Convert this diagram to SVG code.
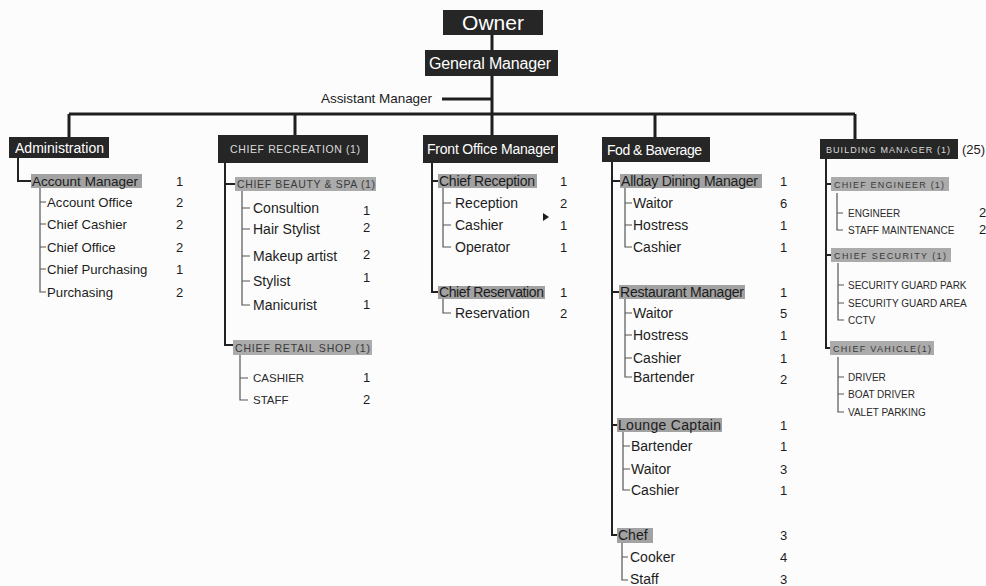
<svg xmlns="http://www.w3.org/2000/svg" width="986" height="586" viewBox="0 0 986 586">
<style>
text{font-family:"Liberation Sans",Arial,sans-serif;fill:#1c1c1c}
.dk{fill:#262626}
.hl{fill:#a2a2a2}
.cb{fill:#ababab}
text.w{fill:#ffffff}
text.wc{fill:#dcdcdc;font-size:10.5px}
text.wc9{fill:#dcdcdc;font-size:9px}
.it{font-size:14px}
.ia{font-size:13.2px}
.ct{font-size:13px}
text.cap{font-size:10.5px;fill:#3a3a3a}
text.cap9{font-size:9px;fill:#3a3a3a}
text.sm{font-size:10px;fill:#2a2a2a}
text.rs{font-size:11.5px;fill:#2a2a2a}
.main{stroke:#1e1e1e;stroke-width:3;fill:none}
.col{stroke:#222;stroke-width:2;fill:none}
.sub{stroke:#555;stroke-width:1.2;fill:none}
</style>
<rect width="986" height="586" fill="#fcfcfc"/>
<g id="connectors">
  <path class="main" d="M492 35V135M442 99H492M69 114H855M69 114V137M295 114V135M655 114V137M855 114V139"/>
  <path class="col" d="M18 158V181H31M225 163V345H233M225 184H235M432 163V292H438M432 181H438M612 162V535H617M612 181H620M612 292H619M612 425H617M826 159V348H830M826 184H831M826 255H831"/>
  <path class="sub" d="M40 188V292H46M40 202H46M40 224H46M40 247H46M40 269H46"/>
  <path class="sub" d="M242 191V305H250M242 208H250M242 229H250M242 256H250M242 281H250M240 355V400H248M240 378H248"/>
  <path class="sub" d="M443 188V247H451M443 203H451M443 225H451M443 299V313H451"/>
  <path class="sub" d="M625 188V247H632M625 203H632M625 225H632M625 299V377H632M625 313H632M625 335H632M625 358H632M623 432V490H630M623 446H630M623 469H630M622 543V580H628M622 557H628"/>
  <path class="sub" d="M837 193V230H843M837 213H843M838 263V320H844M838 285H844M838 303H844M838 357V412H844M838 377H844M838 394H844"/>
</g>
<g id="owner"><rect class="dk" x="443" y="10" width="100" height="25"/><text class="w" x="493" y="30" font-size="21" text-anchor="middle">Owner</text></g>
<g id="general-manager"><rect class="dk" x="425" y="50" width="133" height="26"/><text class="w" x="429" y="69" font-size="16" textLength="122">General Manager</text></g>
<g id="assistant-manager"><text x="321" y="103" font-size="13.5" textLength="111">Assistant Manager</text></g>

<g id="administration"><rect class="dk" x="9" y="137" width="100" height="21"/><text class="w" x="15" y="153" font-size="14" textLength="89">Administration</text></g>
<g id="account-manager"><rect class="hl" x="31" y="174" width="111" height="14"/><text x="32" y="186" font-size="13.5" textLength="106">Account Manager</text><text class="ct" x="176" y="186">1</text></g>
<g id="admin-staff">
  <text class="ia" x="47" y="207">Account Office</text><text class="ct" x="176" y="207">2</text>
  <text class="ia" x="47" y="229">Chief Cashier</text><text class="ct" x="176" y="229">2</text>
  <text class="ia" x="47" y="252">Chief Office</text><text class="ct" x="176" y="252">2</text>
  <text class="ia" x="47" y="274">Chief Purchasing</text><text class="ct" x="176" y="274">1</text>
  <text class="ia" x="47" y="297">Purchasing</text><text class="ct" x="176" y="297">2</text>
</g>

<g id="chief-recreation"><rect class="dk" x="218" y="135" width="150" height="28"/><text class="wc" x="230" y="153" textLength="130">CHIEF RECREATION (1)</text></g>
<g id="chief-beauty-spa"><rect class="cb" x="235" y="177" width="141" height="14"/><text class="cap" x="237" y="188" textLength="138">CHIEF BEAUTY &amp; SPA (1)</text></g>
<g id="beauty-staff">
  <text class="it" x="253" y="213">Consultion</text><text class="ct" x="363" y="215">1</text>
  <text class="it" x="253" y="234">Hair Stylist</text><text class="ct" x="363" y="232">2</text>
  <text class="it" x="253" y="261">Makeup artist</text><text class="ct" x="363" y="259">2</text>
  <text class="it" x="253" y="286">Stylist</text><text class="ct" x="363" y="282">1</text>
  <text class="it" x="253" y="310">Manicurist</text><text class="ct" x="363" y="309">1</text>
</g>
<g id="chief-retail-shop"><rect class="cb" x="233" y="340" width="139" height="15"/><text class="cap" x="235" y="352" textLength="135">CHIEF RETAIL SHOP (1)</text></g>
<g id="retail-staff">
  <text class="rs" x="253" y="382">CASHIER</text><text class="ct" x="363" y="382">1</text>
  <text class="rs" x="253" y="404">STAFF</text><text class="ct" x="363" y="404">2</text>
</g>

<g id="front-office-manager"><rect class="dk" x="423" y="135" width="135" height="28"/><text class="w" x="427" y="154" font-size="14" textLength="128">Front Office Manager</text></g>
<g id="chief-reception"><rect class="hl" x="438" y="174" width="99" height="14"/><text x="439" y="186" font-size="14" textLength="96">Chief Reception</text><text class="ct" x="560" y="186">1</text></g>
<g id="reception-staff">
  <text class="it" x="455" y="208">Reception</text><text class="ct" x="560" y="208">2</text>
  <text class="it" x="455" y="230">Cashier</text><text class="ct" x="560" y="230">1</text>
  <text class="it" x="455" y="252">Operator</text><text class="ct" x="560" y="252">1</text>
  <polygon points="543,213 549,217 543,221" fill="#1c1c1c"/>
</g>
<g id="chief-reservation"><rect class="hl" x="438" y="286" width="107" height="13"/><text x="439" y="297" font-size="14" textLength="105">Chief Reservation</text><text class="ct" x="560" y="297">1</text></g>
<g id="reservation-staff"><text class="it" x="455" y="318">Reservation</text><text class="ct" x="560" y="318">2</text></g>

<g id="food-beverage"><rect class="dk" x="602" y="137" width="108" height="25"/><text class="w" x="607" y="155" font-size="14" textLength="95">Fod &amp; Baverage</text></g>
<g id="allday-dining-manager"><rect class="hl" x="620" y="174" width="142" height="14"/><text x="621" y="186" font-size="14" textLength="137">Allday Dining Manager</text><text class="ct" x="780" y="186">1</text></g>
<g id="allday-staff">
  <text class="it" x="633" y="208">Waitor</text><text class="ct" x="780" y="208">6</text>
  <text class="it" x="633" y="230">Hostress</text><text class="ct" x="780" y="230">1</text>
  <text class="it" x="633" y="252">Cashier</text><text class="ct" x="780" y="252">1</text>
</g>
<g id="restaurant-manager"><rect class="hl" x="619" y="285" width="126" height="14"/><text x="620" y="297" font-size="14" textLength="124">Restaurant Manager</text><text class="ct" x="780" y="297">1</text></g>
<g id="restaurant-staff">
  <text class="it" x="633" y="318">Waitor</text><text class="ct" x="780" y="318">5</text>
  <text class="it" x="633" y="340">Hostress</text><text class="ct" x="780" y="340">1</text>
  <text class="it" x="633" y="363">Cashier</text><text class="ct" x="780" y="363">1</text>
  <text class="it" x="633" y="382">Bartender</text><text class="ct" x="780" y="384">2</text>
</g>
<g id="lounge-captain"><rect class="hl" x="617" y="418" width="105" height="14"/><text x="618" y="430" font-size="14" textLength="103">Lounge Captain</text><text class="ct" x="780" y="430">1</text></g>
<g id="lounge-staff">
  <text class="it" x="631" y="451">Bartender</text><text class="ct" x="780" y="451">1</text>
  <text class="it" x="631" y="474">Waitor</text><text class="ct" x="780" y="474">3</text>
  <text class="it" x="631" y="495">Cashier</text><text class="ct" x="780" y="495">1</text>
</g>
<g id="chef"><rect class="hl" x="617" y="528" width="36" height="15"/><text x="618" y="540" font-size="14">Chef</text><text class="ct" x="780" y="540">3</text></g>
<g id="chef-staff">
  <text class="it" x="630" y="562">Cooker</text><text class="ct" x="780" y="562">4</text>
  <text class="it" x="630" y="584">Staff</text><text class="ct" x="780" y="584">3</text>
</g>

<g id="building-manager"><rect class="dk" x="820" y="139" width="138" height="20"/><text class="wc9" x="826" y="153" textLength="124">BUILDING MANAGER (1)</text><text x="962" y="154" font-size="13">(25)</text></g>
<g id="chief-engineer"><rect class="cb" x="831" y="177" width="118" height="14"/><text class="cap9" x="834" y="188" textLength="110">CHIEF ENGINEER (1)</text></g>
<g id="engineer-staff">
  <text class="sm" x="848" y="217">ENGINEER</text><text class="ct" x="979" y="217">2</text>
  <text class="sm" x="848" y="234">STAFF MAINTENANCE</text><text class="ct" x="979" y="234">2</text>
</g>
<g id="chief-security"><rect class="cb" x="831" y="248" width="120" height="14"/><text class="cap9" x="834" y="259" textLength="112">CHIEF SECURITY (1)</text></g>
<g id="security-staff">
  <text class="sm" x="848" y="289">SECURITY GUARD PARK</text>
  <text class="sm" x="848" y="307">SECURITY GUARD AREA</text>
  <text class="sm" x="848" y="324">CCTV</text>
</g>
<g id="chief-vahicle"><rect class="cb" x="830" y="341" width="104" height="14"/><text class="cap9" x="833" y="352" textLength="98">CHIEF VAHICLE(1)</text></g>
<g id="vehicle-staff">
  <text class="sm" x="848" y="381">DRIVER</text>
  <text class="sm" x="848" y="398">BOAT DRIVER</text>
  <text class="sm" x="848" y="416">VALET PARKING</text>
</g>
</svg>
